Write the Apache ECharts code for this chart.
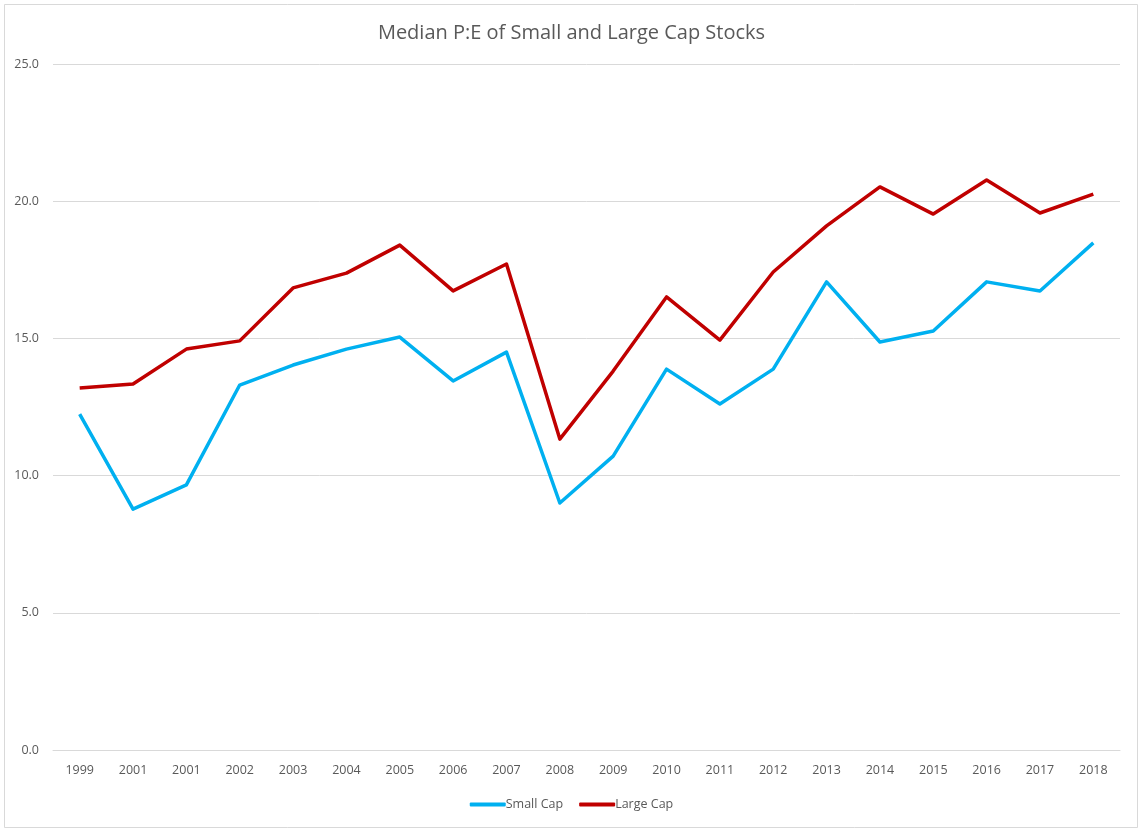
<!DOCTYPE html>
<html>
<head>
<meta charset="utf-8">
<script src="https://cdn.jsdelivr.net/npm/echarts@6/dist/echarts.min.js"></script>
<style>
html,body{margin:0;padding:0;background:#fff;}
#chart{width:1143px;height:834px;}
</style>
</head>
<body>
<div id="chart"></div>
<script>
const titleText = 'Median P:E of Small and Large Cap Stocks';
const categories = ['1999','2001','2001','2002','2003','2004','2005','2006','2007','2008','2009','2010','2011','2012','2013','2014','2015','2016','2017','2018'];
const smallCap = [12.24,8.78,9.66,13.30,14.03,14.61,15.05,13.45,14.50,9.00,10.71,13.88,12.61,13.88,17.06,14.87,15.27,17.06,16.73,18.48];
const largeCap = [13.19,13.34,14.61,14.91,16.84,17.38,18.40,16.73,17.71,11.33,13.81,16.51,14.94,17.42,19.10,20.52,19.53,20.77,19.57,20.26];
const seriesNames = ['Small Cap','Large Cap'];

const chart = echarts.init(document.getElementById('chart'), null, {renderer:'canvas'});
const font = '"Open Sans", "Liberation Sans", sans-serif';
chart.setOption({
  animation:false,
  backgroundColor:'#fff',
  graphic:[{type:'rect',shape:{x:4.5,y:4.5,width:1133,height:823},style:{fill:'none',stroke:'#d9d9d9',lineWidth:1}}],
  title:{text:titleText,left:'center',top:18,textStyle:{fontFamily:font,fontSize:20,fontWeight:'normal',color:'#595959'}},
  legend:{data:seriesNames,bottom:18,left:'center',itemWidth:36,itemHeight:4,itemGap:16,
    icon:'roundRect',
    textStyle:{fontFamily:font,fontSize:12.5,color:'#595959',padding:[0,0,0,-5]}},
  grid:{left:53,right:23,top:64,bottom:84,containLabel:false},
  xAxis:{type:'category',data:categories,boundaryGap:true,
    axisLine:{show:true,lineStyle:{color:'#d9d9d9'}},axisTick:{show:false},
    axisLabel:{fontFamily:font,fontSize:12.5,color:'#595959',margin:14,interval:0}},
  yAxis:{type:'value',min:0,max:25,interval:5,
    axisLine:{show:false},axisTick:{show:false},
    splitLine:{lineStyle:{color:'#d9d9d9'}},
    axisLabel:{fontFamily:font,fontSize:12.5,color:'#595959',margin:14,formatter:v=>v.toFixed(1)}},
  series:[
    {name:seriesNames[0],type:'line',data:smallCap,showSymbol:false,symbol:'none',lineStyle:{color:'#00B0F0',width:3.5,join:'round'},itemStyle:{color:'#00B0F0'}},
    {name:seriesNames[1],type:'line',data:largeCap,showSymbol:false,symbol:'none',lineStyle:{color:'#C00000',width:3.5,join:'round'},itemStyle:{color:'#C00000'}}
  ]
});
</script>
</body>
</html>
